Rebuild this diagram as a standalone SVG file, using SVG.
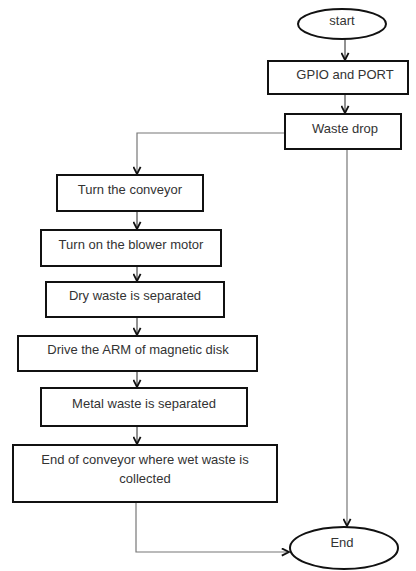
<svg xmlns="http://www.w3.org/2000/svg" width="416" height="571" viewBox="0 0 416 571">
<defs>
<style>
.box{fill:#fff;stroke:#111;stroke-width:2}
.t{font-family:"Liberation Sans",Arial,sans-serif;font-size:13px;fill:#333;text-anchor:middle;dominant-baseline:middle}
.c{fill:none;stroke:#222;stroke-width:1}
.g{fill:none;stroke:#777;stroke-width:1.2}
</style>
<marker id="ah" viewBox="0 0 10 10" refX="9" refY="5" markerWidth="9" markerHeight="9" markerUnits="userSpaceOnUse" orient="auto">
<path d="M1,1 L9,5 L1,9" fill="none" stroke="#111" stroke-width="2"/>
</marker>
</defs>
<rect width="416" height="571" fill="#fff"/>
<g id="connectors">
<line class="c" x1="345" y1="39" x2="345" y2="60" marker-end="url(#ah)"/>
<line class="c" x1="345" y1="94" x2="345" y2="113" marker-end="url(#ah)"/>
<polyline class="g" points="285,133 137,133 137,174" marker-end="url(#ah)"/>
<line class="c" x1="137" y1="211" x2="137" y2="229" marker-end="url(#ah)"/>
<line class="c" x1="137" y1="266" x2="137" y2="281" marker-end="url(#ah)"/>
<line class="c" x1="137" y1="317" x2="137" y2="335" marker-end="url(#ah)"/>
<line class="c" x1="137" y1="371" x2="137" y2="387" marker-end="url(#ah)"/>
<line class="c" x1="137" y1="426" x2="137" y2="444" marker-end="url(#ah)"/>
<line class="g" x1="347" y1="149" x2="347" y2="526" marker-end="url(#ah)"/>
<polyline class="g" points="136,502 136,552 289,552" marker-end="url(#ah)"/>
</g>
<g id="start">
<ellipse class="box" cx="342" cy="24" rx="44" ry="15"/>
<text class="t" x="342" y="22">start</text>
</g>
<g id="gpio">
<rect class="box" x="268" y="61" width="140" height="33"/>
<text class="t" x="345" y="76">GPIO and PORT</text>
</g>
<g id="waste-drop">
<rect class="box" x="285" y="114" width="116" height="35"/>
<text class="t" x="345" y="130">Waste drop</text>
</g>
<g id="turn-conveyor">
<rect class="box" x="57" y="175" width="146" height="36"/>
<text class="t" x="130" y="191">Turn the conveyor</text>
</g>
<g id="blower">
<rect class="box" x="41" y="230" width="180" height="36"/>
<text class="t" x="131" y="246">Turn on the blower motor</text>
</g>
<g id="dry-waste">
<rect class="box" x="46" y="282" width="178" height="35"/>
<text class="t" x="135" y="297">Dry waste is separated</text>
</g>
<g id="drive-arm">
<rect class="box" x="18" y="336" width="239" height="35"/>
<text class="t" x="138" y="351">Drive the ARM of magnetic disk</text>
</g>
<g id="metal-waste">
<rect class="box" x="41" y="388" width="206" height="38"/>
<text class="t" x="144" y="405">Metal waste is separated</text>
</g>
<g id="end-conveyor">
<rect class="box" x="13" y="445" width="264" height="57"/>
<text class="t" x="145" y="461">End of conveyor where wet waste is</text>
<text class="t" x="145" y="480">collected</text>
</g>
<g id="end">
<ellipse class="box" cx="344" cy="548" rx="54" ry="21"/>
<text class="t" x="342" y="544">End</text>
</g>
</svg>
